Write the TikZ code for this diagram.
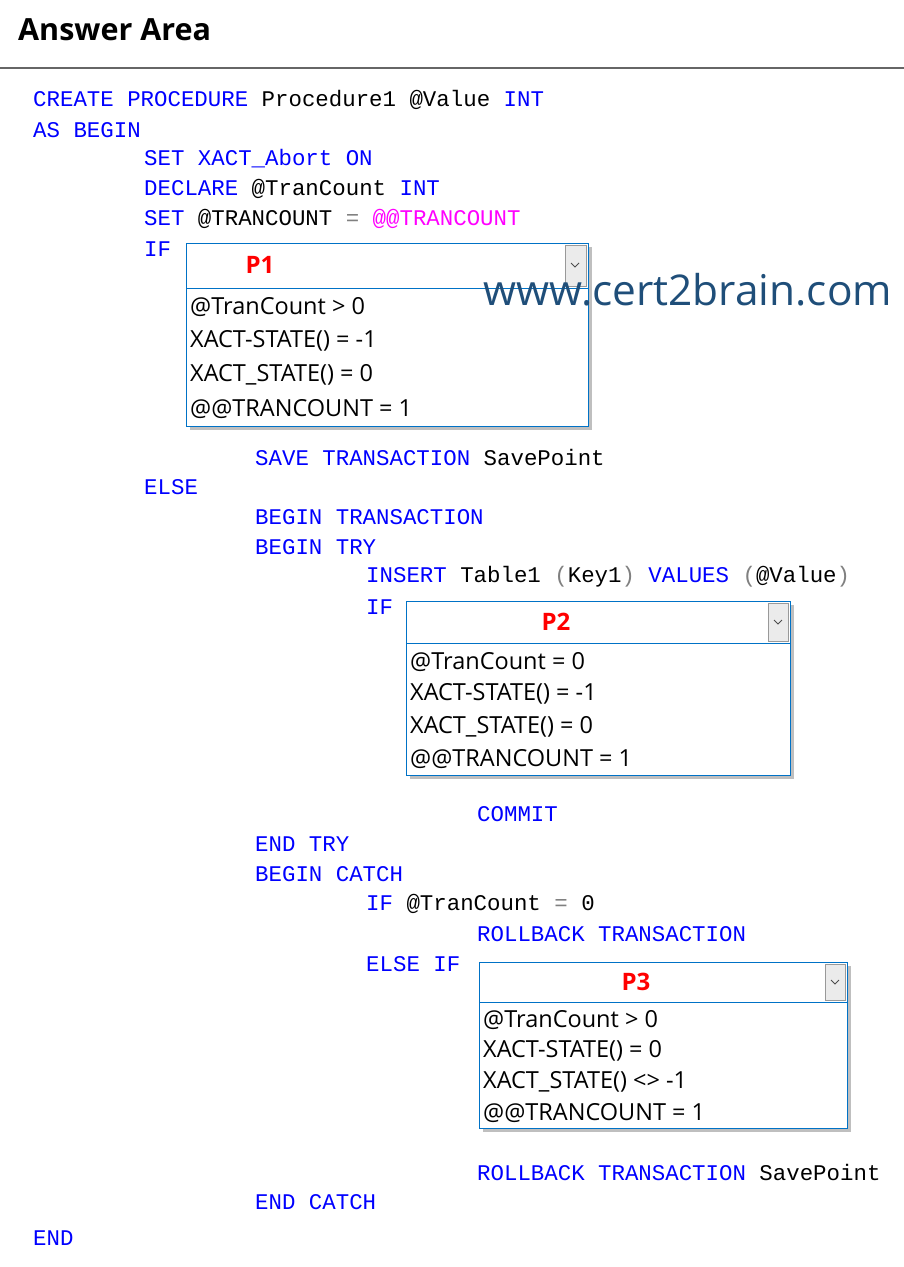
\documentclass[tikz,border=0pt]{standalone}
\usepackage{fontspec}
\setmainfont{Open Sans}
\setmonofont{Liberation Mono}
\definecolor{kw}{RGB}{0,0,255}
\definecolor{op}{RGB}{128,128,128}
\definecolor{mg}{RGB}{255,0,255}
\definecolor{wm}{RGB}{31,78,121}
\definecolor{bx}{RGB}{0,114,198}
\newcommand{\K}[1]{\textcolor{kw}{#1}}
\newcommand{\G}[1]{\textcolor{op}{#1}}
\tikzset{
 code/.style={anchor=west,inner sep=0,font=\ttfamily\fontsize{22.4}{22.4}\selectfont},
 item/.style={anchor=west,inner sep=0,font=\fontsize{23.5}{23.5}\selectfont},
 plab/.style={inner sep=0,font=\bfseries\fontsize{24}{24}\selectfont,text=red},
 frame/.style={draw=bx,line width=1pt,fill=white},
}
\begin{document}
\begin{tikzpicture}[x=1pt,y=-1pt]
\useasboundingbox (0,0) rectangle (904,1267);
\node[anchor=west,inner sep=0,font=\bfseries\fontsize{30.5}{30.5}\selectfont] (title) at (18,30) {Answer Area};
\draw[black!60,line width=1.5pt] (0,68) -- (904,68);
\node[code] (l1) at (33,100) {\K{CREATE PROCEDURE} Procedure1 @Value \K{INT}};
\node[code] (l2) at (33,130) {\K{AS BEGIN}};
\node[code] (l3) at (144,159) {\K{SET} \K{XACT\_Abort ON}};
\node[code] (l4) at (144,189) {\K{DECLARE} @TranCount \K{INT}};
\node[code] (l5) at (144,219) {\K{SET} @TRANCOUNT \G{=} \textcolor{mg}{@@TRANCOUNT}};
\node[code] (l6) at (144,249) {\K{IF}};
% P1
\fill[black!25] (190,247) rectangle (592,430);
\draw[frame] (186,243) rectangle (588,426);
\draw[bx,line width=1pt] (186,288) -- (588,288);
\draw[black!40,fill=black!8] (565,245) rectangle (586,286);
\draw[black!70,line width=0.8pt] (571,263) -- (575,267) -- (579,263);
\node[plab] (p1) at (260,265) {P1};
\node[item] (a1) at (190,307) {@TranCount > 0};
\node[item] (a2) at (190,341) {XACT-STATE() = -1};
\node[item] (a3) at (190,375) {XACT\_STATE() = 0};
\node[item] (a4) at (190,409) {@@TRANCOUNT = 1};
\node[anchor=center,inner sep=0,text=wm,font=\fontsize{42.4}{42.4}\selectfont] (wm) at (688,290) {www.cert2brain.com};
\node[code] (l7) at (255,457) {\K{SAVE TRANSACTION} SavePoint};
\node[code] (l8) at (144,487) {\K{ELSE}};
\node[code] (l9) at (255,517) {\K{BEGIN TRANSACTION}};
\node[code] (l10) at (255,547) {\K{BEGIN TRY}};
\node[code] (l11) at (366,577) {\K{INSERT} Table1 \G{(}Key1\G{)} \K{VALUES} \G{(}@Value\G{)}};
\node[code] (l12) at (366,607) {\K{IF}};
% P2
\fill[black!25] (410,605) rectangle (794,779);
\draw[frame] (406,601) rectangle (790,775);
\draw[bx,line width=1pt] (406,643) -- (790,643);
\draw[black!40,fill=black!8] (768,603) rectangle (788,641);
\draw[black!70,line width=0.8pt] (774,620) -- (778,624) -- (782,620);
\node[plab] (p2) at (556,622) {P2};
\node[item] (b1) at (410,662) {@TranCount = 0};
\node[item] (b2) at (410,694) {XACT-STATE() = -1};
\node[item] (b3) at (410,727) {XACT\_STATE() = 0};
\node[item] (b4) at (410,759) {@@TRANCOUNT = 1};
\node[code] (l13) at (477,814) {\K{COMMIT}};
\node[code] (l14) at (255,844) {\K{END TRY}};
\node[code] (l15) at (255,874) {\K{BEGIN CATCH}};
\node[code] (l16) at (366,904) {\K{IF} @TranCount \G{=} 0};
\node[code] (l17) at (477,934) {\K{ROLLBACK TRANSACTION}};
\node[code] (l18) at (366,964) {\K{ELSE IF}};
% P3
\fill[black!25] (483,966) rectangle (851,1132);
\draw[frame] (479,962) rectangle (847,1128);
\draw[bx,line width=1pt] (479,1002) -- (847,1002);
\draw[black!40,fill=black!8] (825,964) rectangle (845,1000);
\draw[black!70,line width=0.8pt] (831,980) -- (835,984) -- (839,980);
\node[plab] (p3) at (636,982) {P3};
\node[item] (c1) at (483,1020) {@TranCount > 0};
\node[item] (c2) at (483,1051) {XACT-STATE() = 0};
\node[item] (c3) at (483,1082) {XACT\_STATE() <> -1};
\node[item] (c4) at (483,1113) {@@TRANCOUNT = 1};
\node[code] (l19) at (477,1172) {\K{ROLLBACK TRANSACTION} SavePoint};
\node[code] (l20) at (255,1202) {\K{END CATCH}};
\node[code] (l21) at (33,1238) {\K{END}};
\end{tikzpicture}
\end{document}
